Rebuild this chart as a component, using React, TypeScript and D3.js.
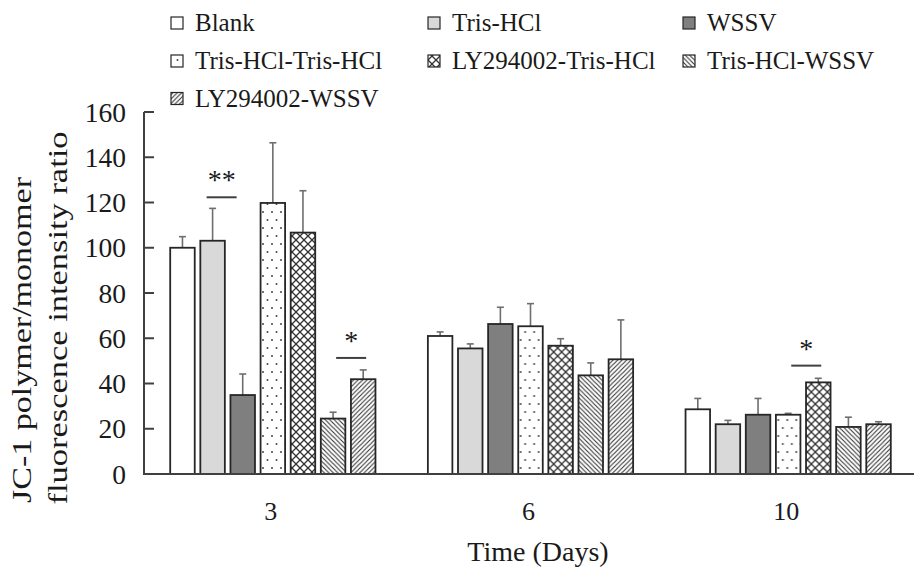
import { useEffect, useRef } from "react";
import * as d3 from "d3";

// groups on the x axis
const days = ["3", "6", "10"];
const seriesNames = [
  "Blank",
  "Tris-HCl",
  "WSSV",
  "Tris-HCl-Tris-HCl",
  "LY294002-Tris-HCl",
  "Tris-HCl-WSSV",
  "LY294002-WSSV",
];

// means, one value per day (3, 6, 10)
const blank = [100, 61, 28.6];
const trisHcl = [103.1, 55.5, 22];
const wssv = [34.9, 66.3, 26.2];
const trisTris = [119.8, 65.3, 26.2];
const lyTris = [106.7, 56.7, 40.5];
const trisWssv = [24.5, 43.6, 20.8];
const lyWssv = [41.9, 50.7, 22];

// upper error bars
const blankErr = [4.9, 1.8, 4.8];
const trisHclErr = [14.3, 2, 1.7];
const wssvErr = [9.3, 7.4, 7.2];
const trisTrisErr = [26.6, 10, 0.6];
const lyTrisErr = [18.5, 3.1, 1.8];
const trisWssvErr = [2.8, 5.5, 4.3];
const lyWssvErr = [4.1, 17.4, 1.1];

const yTicks = [0, 20, 40, 60, 80, 100, 120, 140, 160];

// significance marks: day, bar position (index between bars), level, label
const sigDays = ["3", "3", "10"];
const sigAt = [1.3, 5.6, 3.6];
const sigLevel = [122.3, 51.3, 47.9];
const sigLabel = ["**", "*", "*"];

const App = () => {
  const svgRef = useRef<SVGSVGElement>(null);

  useEffect(() => {
    const width = 914;
    const height = 567;
    const means = [blank, trisHcl, wssv, trisTris, lyTris, trisWssv, lyWssv];
    const errs = [blankErr, trisHclErr, wssvErr, trisTrisErr, lyTrisErr, trisWssvErr, lyWssvErr];
    const fills = ["#ffffff", "#d9d9d9", "#7f7f7f", "url(#p-dots)", "url(#p-cross)", "url(#p-back)", "url(#p-fwd)"];

    const svg = d3.select(svgRef.current);
    svg.selectAll("*").remove();
    svg.attr("width", width).attr("height", height);

    const font = "'Liberation Serif', 'Times New Roman', serif";
    const ink = "#1a1a1a";

    // patterns
    const defs = svg.append("defs");
    const dots = defs.append("pattern").attr("id", "p-dots")
      .attr("patternUnits", "userSpaceOnUse").attr("width", 9).attr("height", 16);
    dots.append("rect").attr("width", 9).attr("height", 16).attr("fill", "#fff");
    dots.append("circle").attr("cx", 2).attr("cy", 4).attr("r", 1).attr("fill", "#444");
    dots.append("circle").attr("cx", 6.5).attr("cy", 12).attr("r", 1).attr("fill", "#444");

    const cross = defs.append("pattern").attr("id", "p-cross")
      .attr("patternUnits", "userSpaceOnUse").attr("width", 8).attr("height", 8);
    cross.append("rect").attr("width", 8).attr("height", 8).attr("fill", "#fff");
    cross.append("path").attr("d", "M0,0L8,8M8,0L0,8")
      .attr("stroke", "#333").attr("stroke-width", 1.3);

    const back = defs.append("pattern").attr("id", "p-back")
      .attr("patternUnits", "userSpaceOnUse").attr("width", 4.5).attr("height", 4.5);
    back.append("rect").attr("width", 4.5).attr("height", 4.5).attr("fill", "#fff");
    back.append("path").attr("d", "M0,0L4.5,4.5M-1,3.5L1,5.5M3.5,-1L5.5,1")
      .attr("stroke", "#333").attr("stroke-width", 1.1);

    const fwd = defs.append("pattern").attr("id", "p-fwd")
      .attr("patternUnits", "userSpaceOnUse").attr("width", 4.5).attr("height", 4.5);
    fwd.append("rect").attr("width", 4.5).attr("height", 4.5).attr("fill", "#fff");
    fwd.append("path").attr("d", "M0,4.5L4.5,0M-1,1L1,-1M3.5,5.5L5.5,3.5")
      .attr("stroke", "#333").attr("stroke-width", 1.1);

    // scales
    const x0 = d3.scaleBand().domain(days).range([144, 917]);
    const x1 = d3.scaleBand().domain(seriesNames).range([0, x0.bandwidth()])
      .paddingInner(0.186).paddingOuter(0.87);
    const y = d3.scaleLinear().domain([0, 160]).range([474, 112]);

    // bars
    const groups = svg.append("g").selectAll("g")
      .data(days)
      .enter()
      .append("g")
      .attr("transform", (d) => `translate(${x0(d)},0)`);

    groups.each(function (day, di) {
      const g = d3.select(this);
      seriesNames.forEach((s, si) => {
        const v = means[si][di];
        const e = errs[si][di];
        const bx = x1(s)!;
        const cx = bx + x1.bandwidth() / 2;
        // error bar first, bar drawn over
        g.append("line")
          .attr("x1", cx).attr("x2", cx)
          .attr("y1", y(v)).attr("y2", y(v + e))
          .attr("stroke", "#6e6e6e").attr("stroke-width", 1.6);
        g.append("line")
          .attr("x1", cx - 3.5).attr("x2", cx + 3.5)
          .attr("y1", y(v + e)).attr("y2", y(v + e))
          .attr("stroke", "#6e6e6e").attr("stroke-width", 1.6);
        g.append("rect")
          .attr("x", bx).attr("y", y(v))
          .attr("width", x1.bandwidth()).attr("height", y(0) - y(v))
          .attr("fill", fills[si])
          .attr("stroke", "#262626").attr("stroke-width", 1.8);
      });
    });

    // y axis
    const yAxis = svg.append("g");
    yAxis.append("line")
      .attr("x1", 144).attr("x2", 144).attr("y1", y(160)).attr("y2", y(0))
      .attr("stroke", "#404040").attr("stroke-width", 2);
    yAxis.selectAll(".tick")
      .data(yTicks)
      .enter()
      .append("line")
      .attr("x1", 144).attr("x2", 154)
      .attr("y1", (d) => y(d)).attr("y2", (d) => y(d))
      .attr("stroke", "#404040").attr("stroke-width", 2);
    yAxis.selectAll(".lbl")
      .data(yTicks)
      .enter()
      .append("text")
      .attr("x", 126).attr("y", (d) => y(d) + 9.5)
      .attr("text-anchor", "end")
      .style("font-family", font).style("font-size", "27.5px").attr("fill", ink)
      .text((d) => d);

    // x axis
    svg.append("line")
      .attr("x1", 143).attr("x2", 914).attr("y1", y(0)).attr("y2", y(0))
      .attr("stroke", "#404040").attr("stroke-width", 2);
    svg.append("g").selectAll("text")
      .data(days)
      .enter()
      .append("text")
      .attr("x", (d) => x0(d)! + x0.bandwidth() / 2 - 2)
      .attr("y", 520)
      .attr("text-anchor", "middle")
      .style("font-family", font).style("font-size", "26px").attr("fill", ink)
      .text((d) => d);

    // axis titles
    svg.append("text")
      .attr("x", 538).attr("y", 561)
      .attr("text-anchor", "middle")
      .style("font-family", font).style("font-size", "28px").attr("fill", ink)
      .text("Time (Days)");
    svg.append("text")
      .attr("transform", "translate(31,340) rotate(-90)")
      .attr("text-anchor", "middle")
      .attr("textLength", 326).attr("lengthAdjust", "spacingAndGlyphs")
      .style("font-family", font).style("font-size", "28px").attr("fill", ink)
      .text("JC-1 polymer/monomer");
    svg.append("text")
      .attr("transform", "translate(67,318) rotate(-90)")
      .attr("text-anchor", "middle")
      .attr("textLength", 373).attr("lengthAdjust", "spacingAndGlyphs")
      .style("font-family", font).style("font-size", "28px").attr("fill", ink)
      .text("fluorescence intensity ratio");

    // significance marks
    sigLabel.forEach((lbl, i) => {
      const cx = x0(sigDays[i])! + x1(seriesNames[0])! + x1.bandwidth() / 2 + sigAt[i] * x1.step();
      const ly = y(sigLevel[i]);
      svg.append("line")
        .attr("x1", cx - 15).attr("x2", cx + 15).attr("y1", ly).attr("y2", ly)
        .attr("stroke", "#404040").attr("stroke-width", 2);
      svg.append("text")
        .attr("x", cx).attr("y", ly - 8)
        .attr("text-anchor", "middle")
        .style("font-family", font).style("font-size", "28px").attr("fill", ink)
        .text(lbl);
    });

    // legend: 3 columns
    const colX = [171, 428, 683];
    const rowBase = [31, 69, 106.5];
    seriesNames.forEach((s, i) => {
      const cx = colX[i % 3];
      const by = rowBase[Math.floor(i / 3)];
      svg.append("rect")
        .attr("x", cx).attr("y", by - 14).attr("width", 12).attr("height", 12)
        .attr("fill", fills[i]).attr("stroke", "#262626").attr("stroke-width", 1.2);
      svg.append("text")
        .attr("x", cx + 24).attr("y", by)
        .style("font-family", font).style("font-size", "25px").attr("fill", ink)
        .text(s);
    });
  }, []);

  return (
    <div style={{ position: "absolute", left: 0, top: 0 }}>
      <svg ref={svgRef} style={{ display: "block" }}></svg>
    </div>
  );
};

export default App;
